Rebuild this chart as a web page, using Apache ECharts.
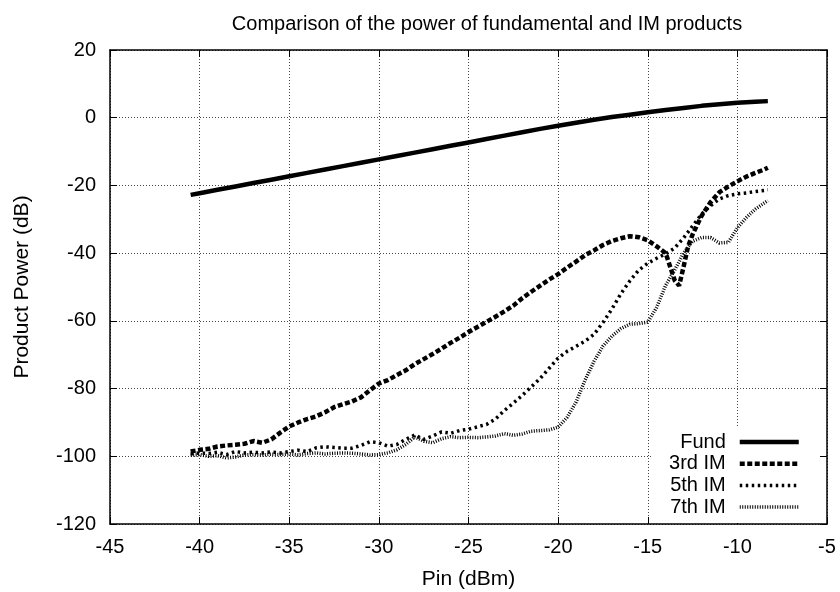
<!DOCTYPE html>
<html>
<head>
<meta charset="utf-8">
<script src="https://cdn.jsdelivr.net/npm/echarts@6/dist/echarts.min.js"></script>
<style>html,body{margin:0;padding:0;background:#fff}#c{width:840px;height:592px}</style>
</head>
<body>
<div id="c"></div>
<script>
const titleText = 'Comparison of the power of fundamental and IM products';
const xName = 'Pin (dBm)';
const yName = 'Product Power (dB)';
const xTicks = [-45, -40, -35, -30, -25, -20, -15, -10, -5];
const yTicks = [20, 0, -20, -40, -60, -80, -100, -120];
const seriesNames = ['Fund', '3rd IM', '5th IM', '7th IM'];

const fundPin = [-40.5,-40,-39,-38,-37,-36,-35,-34,-33,-32,-31,-30,-29,-28,-27,-26,-25,-24,-23,-22,-21,-20,-19,-18,-17,-16,-15,-14,-13,-12,-11,-10,-9,-8.3];
const fundPow = [-22.8,-22.3,-21.3,-20.3,-19.3,-18.3,-17.3,-16.3,-15.3,-14.3,-13.3,-12.3,-11.3,-10.3,-9.3,-8.3,-7.3,-6.3,-5.3,-4.3,-3.3,-2.4,-1.5,-0.6,0.2,0.9,1.6,2.3,2.9,3.5,4.0,4.4,4.7,4.9];

const im3Pin = [-40.5,-40,-39.5,-39,-38.5,-38,-37.5,-37,-36.5,-36,-35.5,-35,-34.5,-34,-33.5,-33,-32.5,-32,-31.5,-31,-30.5,-30,-29.5,-29,-28.5,-28,-27.5,-27,-26.5,-26,-25.5,-25,-24.5,-24,-23.5,-23,-22.5,-22,-21.5,-21,-20.5,-20,-19.5,-19,-18.5,-18,-17.5,-17,-16.5,-16,-15.5,-15,-14.5,-14,-13.75,-13.5,-13.25,-13,-12.75,-12.5,-12,-11.5,-11,-10.5,-10,-9.5,-9,-8.5,-8.3];
const im3Pow = [-98.6,-98.1,-97.8,-97.1,-96.8,-96.6,-96.3,-95.5,-96.0,-95.0,-93.0,-91.2,-90.0,-89.0,-88.2,-87.0,-85.5,-84.6,-83.8,-82.6,-80.5,-78.5,-77.5,-76.0,-74.6,-72.8,-71.3,-69.8,-68.2,-66.5,-65.0,-63.3,-61.8,-60.3,-58.8,-57.2,-55.5,-53.3,-51.4,-49.6,-47.8,-46.2,-44.3,-42.5,-40.6,-39.2,-37.6,-36.4,-35.6,-35.0,-35.3,-36.2,-38.0,-40.0,-44.0,-48.0,-49.6,-44.0,-38.0,-34.5,-29.0,-25.0,-22.0,-20.3,-18.8,-17.4,-16.3,-15.3,-14.8];

const im5Pin = [-40.5,-40,-39.5,-39,-38.5,-38,-37.5,-37,-36.5,-36,-35.5,-35,-34.5,-34,-33.5,-33,-32.5,-32,-31.5,-31,-30.5,-30,-29.5,-29,-28.5,-28,-27.5,-27,-26.5,-26,-25.5,-25,-24.5,-24,-23.5,-23,-22.5,-22,-21.5,-21,-20.5,-20,-19.5,-19,-18.5,-18,-17.5,-17,-16.5,-16,-15.5,-15,-14.5,-14,-13.5,-13,-12.5,-12,-11.5,-11,-10.5,-10,-9.5,-9,-8.5,-8.3];
const im5Pow = [-99.3,-99.0,-99.2,-98.8,-99.5,-98.6,-99.0,-98.8,-99.0,-98.7,-99.0,-98.6,-98.2,-98.6,-97.5,-97.2,-97.4,-97.6,-97.6,-96.8,-95.7,-96.0,-97.0,-96.5,-95.0,-93.7,-95.0,-94.0,-92.8,-93.2,-92.4,-92.0,-91.3,-90.6,-89.0,-86.5,-84.3,-82.0,-79.5,-77.0,-74.0,-71.0,-69.0,-67.5,-66.0,-64.0,-60.5,-56.5,-52.0,-48.2,-45.0,-43.0,-41.5,-40.2,-38.5,-35.5,-32.0,-28.5,-26.0,-24.0,-23.0,-22.5,-22.2,-21.8,-21.5,-21.3];

const im7Pin = [-40.5,-40,-39.5,-39,-38.5,-38,-37.5,-37,-36.5,-36,-35.5,-35,-34.5,-34,-33.5,-33,-32.5,-32,-31.5,-31,-30.5,-30,-29.5,-29,-28.5,-28,-27.5,-27,-26.5,-26,-25.5,-25,-24.5,-24,-23.5,-23,-22.5,-22,-21.5,-21,-20.5,-20,-19.5,-19,-18.5,-18,-17.5,-17,-16.5,-16,-15.5,-15,-14.5,-14,-13.5,-13,-12.5,-12,-11.5,-11,-10.5,-10,-9.5,-9,-8.5,-8.3];
const im7Pow = [-99.7,-99.5,-100.0,-99.8,-100.5,-100.2,-99.6,-99.5,-99.6,-99.4,-99.5,-99.3,-99.6,-99.2,-99.0,-99.3,-99.1,-99.0,-99.1,-99.3,-99.6,-99.5,-99.0,-98.1,-96.5,-94.3,-95.5,-96.0,-94.8,-94.2,-94.5,-94.4,-94.5,-94.3,-94.0,-93.3,-93.8,-93.4,-92.6,-92.4,-92.2,-91.4,-88.5,-84.0,-77.5,-72.0,-67.5,-64.5,-62.3,-61.0,-60.8,-60.4,-56.0,-49.5,-45.0,-40.0,-36.5,-35.4,-35.4,-37.0,-36.8,-32.5,-29.5,-27.0,-25.2,-24.5];

const FONT = '"Liberation Sans", Arial, Helvetica, sans-serif';
const zip = (a, b) => a.map((v, i) => [v, b[i]]);

const chart = echarts.init(document.getElementById('c'), null, {renderer: 'canvas'});

const xMin = xTicks[0], xMax = xTicks[xTicks.length - 1];
const yMin = Math.min(...yTicks), yMax = Math.max(...yTicks);
const xStep = xTicks[1] - xTicks[0];
const yStep = yTicks[0] - yTicks[1];

const axisLineStyle = {color: '#000', width: 1.5};
const gridLine = {show: true, lineStyle: {color: '#444', type: [1, 2], width: 1}};

const lineDefs = [
  {name: seriesNames[0], data: zip(fundPin, fundPow), ls: {color: '#000', width: 4.5, type: 'solid'}},
  {name: seriesNames[1], data: zip(im3Pin, im3Pow), ls: {color: '#000', width: 4.5, type: [5, 2.5]}},
  {name: seriesNames[2], data: zip(im5Pin, im5Pow), ls: {color: '#000', width: 3.5, type: [2.5, 3.5]}},
  {name: seriesNames[3], data: zip(im7Pin, im7Pow), ls: {color: '#000', width: 3.5, type: [1, 1.5]}}
];

chart.setOption({
  backgroundColor: '#fff',
  animation: false,
  textStyle: {fontFamily: FONT},
  title: {
    text: titleText, left: 482, top: 9, textAlign: 'center',
    textStyle: {fontFamily: FONT, fontSize: 20, fontWeight: 'normal', color: '#000'}
  },
  grid: {left: 110, right: 13, top: 50, bottom: 68, containLabel: false, outerBoundsMode: 'none'},
  legend: {
    data: seriesNames.map((n, i) => ({name: n, lineStyle: {width: lineDefs[i].ls.width, type: lineDefs[i].ls.type, color: '#000'}})),
    orient: 'vertical',
    align: 'right',
    right: 21,
    top: 426,
    itemWidth: 59,
    itemHeight: 14,
    itemGap: 1.7,
    padding: [6, 18, 6, 18],
    backgroundColor: '#fff',
    itemStyle: {opacity: 0, borderWidth: 0},
    textStyle: {fontFamily: FONT, fontSize: 20, lineHeight: 20, color: '#000', padding: [0, 9, 0, 0]}
  },
  xAxis: [{
    type: 'value', min: xMin, max: xMax, interval: xStep,
    name: xName, nameLocation: 'middle', nameGap: 45,
    nameTextStyle: {fontFamily: FONT, fontSize: 21, color: '#000'},
    axisLine: {show: true, onZero: false, lineStyle: axisLineStyle},
    axisTick: {show: true, inside: true, length: 7, lineStyle: {color: '#000', width: 1}},
    axisLabel: {fontFamily: FONT, fontSize: 20, color: '#000', margin: 13},
    splitLine: gridLine
  }, {
    type: 'value', position: 'top', min: xMin, max: xMax, interval: xStep,
    axisLine: {show: true, onZero: false, lineStyle: axisLineStyle},
    axisTick: {show: true, inside: true, length: 7, lineStyle: {color: '#000', width: 1}},
    axisLabel: {show: false}, splitLine: {show: false}
  }],
  yAxis: [{
    type: 'value', min: yMin, max: yMax, interval: yStep,
    name: yName, nameLocation: 'middle', nameGap: 77,
    nameTextStyle: {fontFamily: FONT, fontSize: 21, color: '#000'},
    axisLine: {show: true, onZero: false, lineStyle: axisLineStyle},
    axisTick: {show: true, inside: true, length: 7, lineStyle: {color: '#000', width: 1}},
    axisLabel: {fontFamily: FONT, fontSize: 20, color: '#000', margin: 14},
    splitLine: gridLine
  }, {
    type: 'value', position: 'right', min: yMin, max: yMax, interval: yStep,
    axisLine: {show: true, onZero: false, lineStyle: axisLineStyle},
    axisTick: {show: true, inside: true, length: 7, lineStyle: {color: '#000', width: 1}},
    axisLabel: {show: false}, splitLine: {show: false}
  }],
  series: lineDefs.map(d => ({
    name: d.name, type: 'line', xAxisIndex: 0, yAxisIndex: 0,
    data: d.data, showSymbol: false, symbol: 'none', smooth: false,
    lineStyle: d.ls, itemStyle: {color: '#000'}, z: 3
  }))
});
</script>
</body>
</html>
